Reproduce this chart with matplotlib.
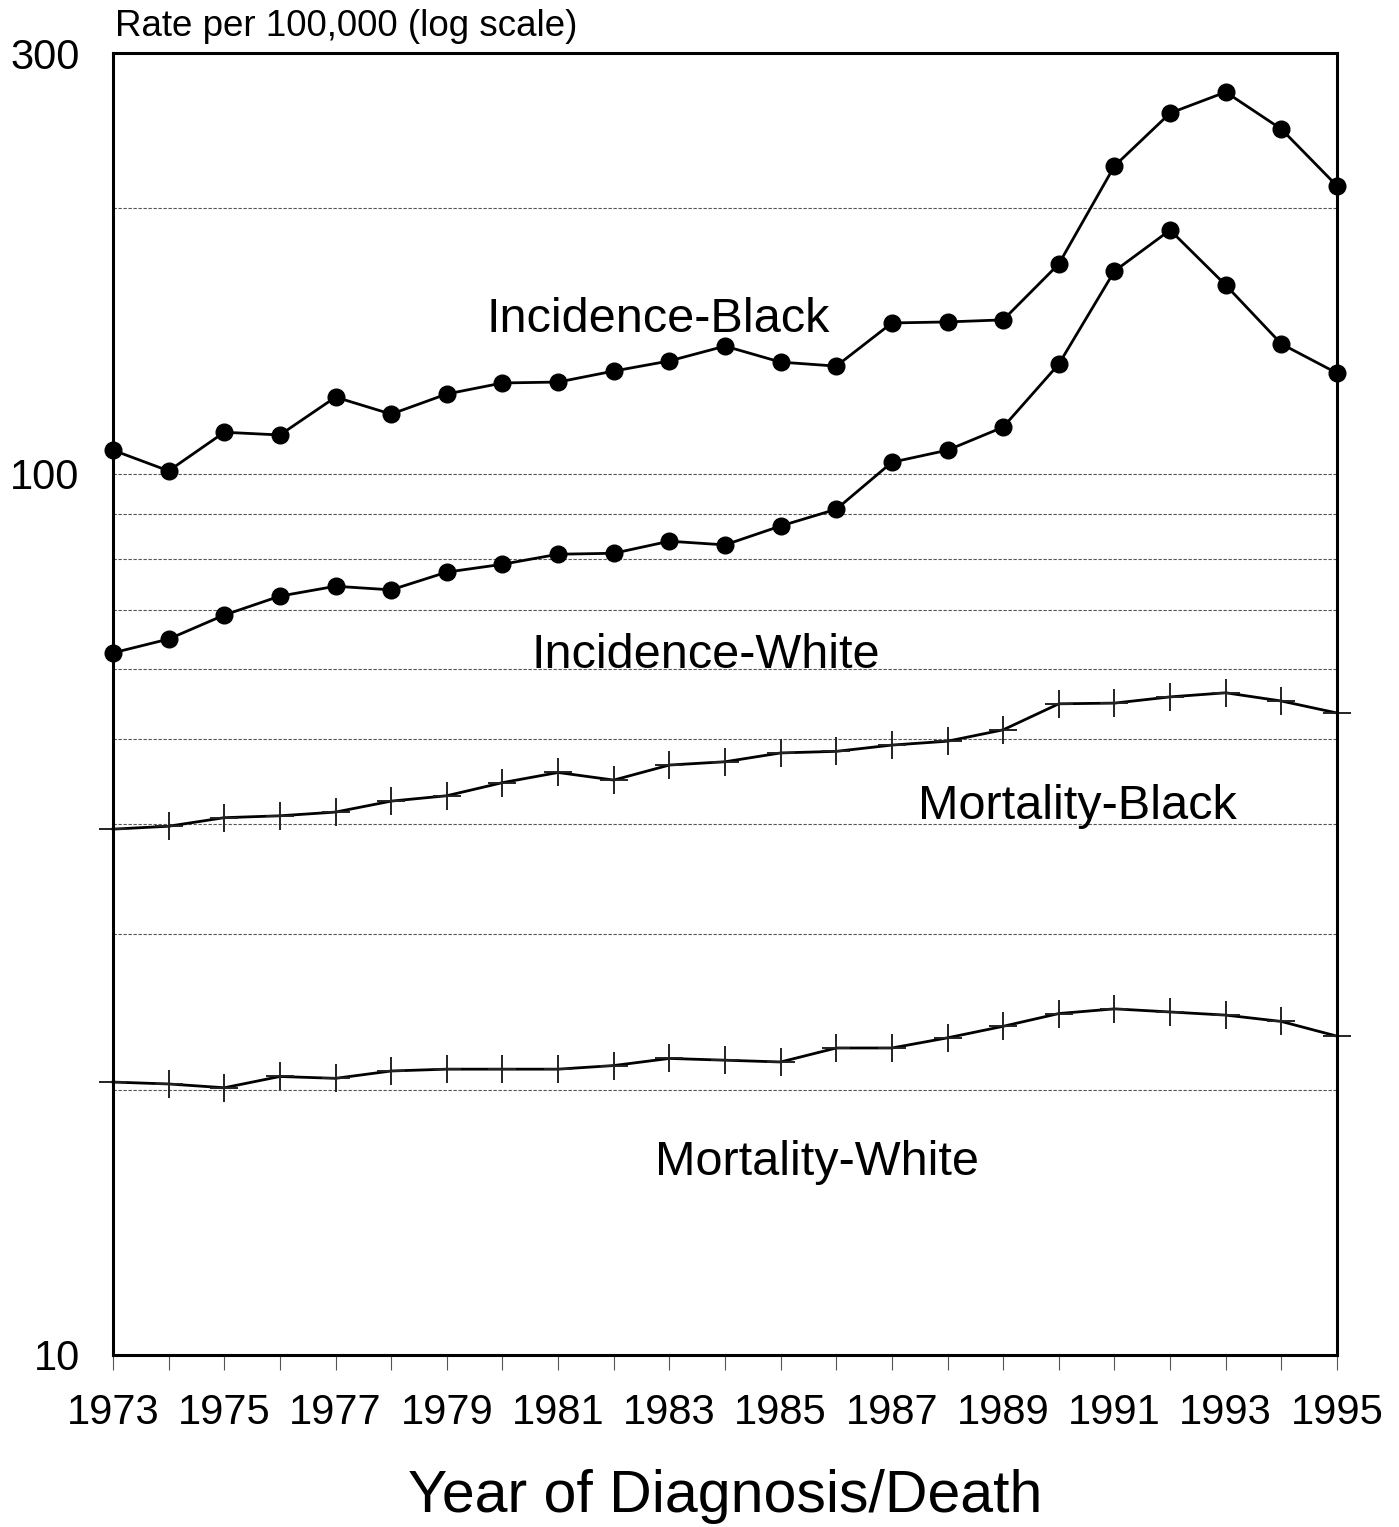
import matplotlib
matplotlib.use("Agg")
import matplotlib.pyplot as plt
import numpy as np

plt.rcParams['font.family'] = ['Liberation Sans', 'DejaVu Sans']

years = list(range(1973, 1996))

# rates per 100,000
incidence_black = [106.3, 100.7, 111.4, 110.6, 122.1, 116.8, 123.1, 126.7, 127.0, 130.7,
                   134.2, 139.5, 133.8, 132.4, 148.2, 148.6, 149.4, 172.9, 223.3, 256.4,
                   270.9, 245.9, 212.0]
incidence_white = [62.6, 64.9, 69.1, 72.6, 74.5, 73.8, 77.3, 78.9, 81.0, 81.2,
                   83.8, 83.0, 87.2, 91.1, 103.0, 106.3, 112.9, 133.1, 169.7, 188.9,
                   163.6, 140.3, 130.0]
mortality_black = [39.5, 39.8, 40.7, 40.9, 41.3, 42.5, 43.1, 44.6, 45.8, 44.9,
                   46.7, 47.1, 48.2, 48.4, 49.2, 49.7, 51.2, 54.8, 54.9, 55.8,
                   56.4, 55.2, 53.5]
mortality_white = [20.4, 20.3, 20.1, 20.7, 20.6, 21.0, 21.1, 21.1, 21.1, 21.3,
                   21.7, 21.6, 21.5, 22.3, 22.3, 22.9, 23.6, 24.4, 24.7, 24.5,
                   24.3, 23.9, 23.0]

grid_values = [20, 30, 40, 50, 60, 70, 80, 90, 100, 200]
ytick_values = [10, 100, 300]
ytick_labels = ['10', '100', '300']
xtick_labels = [str(y) if (y - 1973) % 2 == 0 else '' for y in years]

fig = plt.figure(figsize=(13.99, 15.27), dpi=100)
ax = fig.add_axes([113 / 1399, 1 - 1355 / 1527, 1224 / 1399, 1302 / 1527])

for g in grid_values:
    ax.axhline(g, color='#555555', lw=0.8, ls=(0, (3, 1.5)), zorder=1)

ax.plot(years, incidence_black, color='black', lw=2, marker='o', ms=12,
        clip_on=False, zorder=3)
ax.plot(years, incidence_white, color='black', lw=2, marker='o', ms=12,
        clip_on=False, zorder=3)
ax.plot(years, mortality_black, color='black', lw=2, marker='+', ms=20,
        mew=1.4, mec='#222222', clip_on=False, zorder=3)
ax.plot(years, mortality_white, color='black', lw=2, marker='+', ms=20,
        mew=1.4, mec='#222222', clip_on=False, zorder=3)

ax.set_yscale('log')
ax.set_ylim(10, 300)
ax.set_xlim(1973, 1995)
ax.set_yticks(ytick_values)
ax.set_yticklabels(ytick_labels)
ax.yaxis.set_minor_locator(matplotlib.ticker.NullLocator())
ax.tick_params(axis='y', length=0, pad=24, labelsize=30)
ax.set_xticks(years)
ax.set_xticklabels(xtick_labels)
ax.tick_params(axis='x', length=11, width=0.8, color='#555555', pad=16, labelsize=30)

for s in ax.spines.values():
    s.set_linewidth(2.2)
    s.set_zorder(4)

ax.text(1979.72, 144.7, 'Incidence-Black', fontsize=35, ha='left', va='baseline')
ax.text(1980.53, 60.2, 'Incidence-White', fontsize=35, ha='left', va='baseline')
ax.text(1987.47, 40.55, 'Mortality-Black', fontsize=35, ha='left', va='baseline')
ax.text(1982.74, 16.0, 'Mortality-White', fontsize=35, ha='left', va='baseline')

fig.text(115 / 1399, 1 - 36 / 1527, 'Rate per 100,000 (log scale)', fontsize=26.5,
         ha='left', va='baseline')
ax.set_xlabel('Year of Diagnosis/Death', fontsize=42.5, labelpad=26)

fig.savefig('out.png', dpi=100)
